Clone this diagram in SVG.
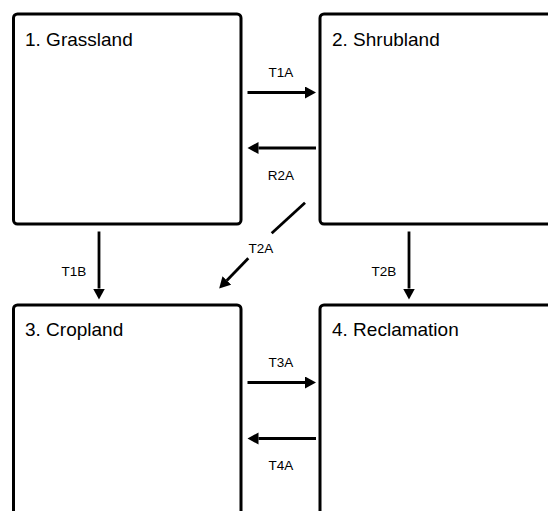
<svg xmlns="http://www.w3.org/2000/svg" width="548" height="511" viewBox="0 0 548 511">
  <defs>
    <marker id="ah" markerUnits="userSpaceOnUse" markerWidth="12" markerHeight="13" refX="0" refY="6" orient="auto">
      <path d="M0,0 L11,6 L0,12 z" fill="#000"/>
    </marker>
    <style>
      .box { fill: #fff; stroke: #000; stroke-width: 3; }
      .title { font-family: "Liberation Sans", Arial, sans-serif; font-size: 19px; fill: #000; }
      .lbl { font-family: "Liberation Sans", Arial, sans-serif; font-size: 13.5px; fill: #000; text-anchor: middle; }
      .conn { stroke: #000; stroke-width: 2.8; fill: none; }
    </style>
  </defs>
  <rect width="548" height="511" fill="#fff"/>
  <g id="node1">
    <rect class="box" x="13.5" y="14" width="227.5" height="210" rx="4"/>
    <text class="title" x="25" y="46">1. Grassland</text>
  </g>
  <g id="node2">
    <rect class="box" x="320" y="14" width="260" height="210" rx="4"/>
    <text class="title" x="332" y="46">2. Shrubland</text>
  </g>
  <g id="node3">
    <rect class="box" x="13.5" y="305" width="227.5" height="230" rx="4"/>
    <text class="title" x="25" y="336">3. Cropland</text>
  </g>
  <g id="node4">
    <rect class="box" x="320" y="305" width="260" height="230" rx="4"/>
    <text class="title" x="332" y="336">4. Reclamation</text>
  </g>
  <g id="connectors">
    <line class="conn" x1="247.5" y1="92.5" x2="305" y2="92.5" marker-end="url(#ah)"/>
    <text class="lbl" x="281" y="77">T1A</text>
    <line class="conn" x1="316" y1="148" x2="258.5" y2="148" marker-end="url(#ah)"/>
    <text class="lbl" x="281" y="180">R2A</text>
    <line class="conn" x1="305" y1="202.7" x2="271.7" y2="233.3"/>
    <line class="conn" x1="248.3" y1="258.3" x2="226.8" y2="280.5" marker-end="url(#ah)"/>
    <text class="lbl" x="261" y="253">T2A</text>
    <line class="conn" x1="99" y1="231.5" x2="99" y2="288.5" marker-end="url(#ah)"/>
    <text class="lbl" x="74" y="276">T1B</text>
    <line class="conn" x1="409" y1="231.5" x2="409" y2="288.5" marker-end="url(#ah)"/>
    <text class="lbl" x="384" y="276">T2B</text>
    <line class="conn" x1="247.5" y1="382.5" x2="305" y2="382.5" marker-end="url(#ah)"/>
    <text class="lbl" x="281" y="367">T3A</text>
    <line class="conn" x1="316" y1="438.5" x2="258.5" y2="438.5" marker-end="url(#ah)"/>
    <text class="lbl" x="281" y="470">T4A</text>
  </g>
</svg>
